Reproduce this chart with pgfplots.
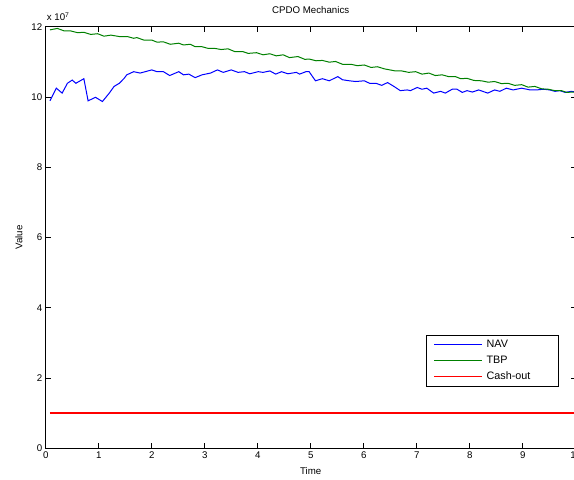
\documentclass[border=0pt]{standalone}
\usepackage{fontspec}
\setmainfont{Liberation Sans}
\usepackage{pgfplots}
\pgfplotsset{compat=1.18}
\usetikzlibrary{calc}

\definecolor{navblue}{rgb}{0,0,1}
\definecolor{tbpgreen}{rgb}{0,0.5,0}
\definecolor{cashred}{rgb}{1,0,0}

% values in units of 10^7
\pgfplotstableread{
t     v
0.08  9.89
0.20  10.25
0.31  10.11
0.41  10.39
0.50  10.48
0.57  10.39
0.72  10.52
0.80  9.89
0.94  9.99
1.07  9.87
1.20  10.11
1.29  10.30
1.39  10.39
1.48  10.53
1.53  10.63
1.66  10.72
1.78  10.68
1.88  10.72
2.00  10.77
2.10  10.72
2.22  10.72
2.34  10.61
2.51  10.72
2.60  10.63
2.70  10.65
2.82  10.55
2.95  10.63
3.11  10.68
3.24  10.77
3.35  10.70
3.50  10.77
3.63  10.70
3.75  10.72
3.85  10.66
4.01  10.72
4.10  10.70
4.23  10.74
4.34  10.65
4.45  10.72
4.57  10.66
4.73  10.70
4.79  10.65
4.91  10.72
4.97  10.72
5.09  10.46
5.22  10.52
5.35  10.46
5.51  10.58
5.60  10.49
5.73  10.46
5.85  10.44
6.01  10.46
6.11  10.39
6.23  10.39
6.34  10.33
6.45  10.41
6.57  10.30
6.69  10.18
6.82  10.20
6.88  10.18
7.01  10.27
7.10  10.22
7.19  10.25
7.32  10.11
7.45  10.16
7.54  10.11
7.67  10.22
7.76  10.22
7.86  10.13
7.95  10.18
8.05  10.14
8.17  10.20
8.34  10.11
8.47  10.20
8.57  10.16
8.69  10.25
8.82  10.20
8.98  10.25
9.14  10.20
9.26  10.20
9.39  10.22
9.51  10.20
9.61  10.16
9.70  10.18
9.80  10.13
9.92  10.16
10.00 10.14
}\navdata

\pgfplotstableread{
t     v
0.08  11.91
0.22  11.95
0.35  11.88
0.47  11.88
0.60  11.83
0.72  11.84
0.85  11.78
0.98  11.80
1.10  11.73
1.23  11.76
1.39  11.72
1.54  11.72
1.66  11.67
1.72  11.69
1.85  11.62
2.00  11.62
2.10  11.56
2.22  11.57
2.35  11.50
2.51  11.53
2.60  11.48
2.73  11.50
2.82  11.43
2.95  11.43
3.07  11.38
3.20  11.38
3.31  11.35
3.44  11.37
3.57  11.29
3.72  11.29
3.82  11.24
3.98  11.26
4.10  11.20
4.23  11.23
4.35  11.17
4.48  11.20
4.60  11.12
4.76  11.15
4.89  11.07
4.97  11.08
5.10  11.03
5.22  11.04
5.35  10.99
5.47  11.01
5.60  10.93
5.76  10.93
5.88  10.89
6.01  10.91
6.14  10.84
6.26  10.86
6.39  10.80
6.53  10.76
6.60  10.74
6.72  10.74
6.85  10.70
6.98  10.72
7.10  10.65
7.23  10.68
7.35  10.61
7.48  10.63
7.60  10.58
7.73  10.58
7.83  10.52
7.95  10.53
8.08  10.47
8.22  10.46
8.35  10.42
8.47  10.44
8.60  10.38
8.72  10.39
8.85  10.33
8.98  10.35
9.10  10.28
9.23  10.30
9.36  10.23
9.48  10.22
9.61  10.18
9.73  10.18
9.83  10.13
9.95  10.14
10.00 10.14
}\tbpdata

% constant cash-out threshold
\pgfplotstableread{
t     v
0.08  1.0
1.00  1.0
2.00  1.0
3.00  1.0
4.00  1.0
5.00  1.0
6.00  1.0
7.00  1.0
8.00  1.0
9.00  1.0
10.00 1.0
}\cashdata

\begin{document}
\begin{tikzpicture}
\begin{axis}[
  name=ax,
  at={(0,0)}, anchor=south west,
  scale only axis, width=530pt, height=421.6pt,
  xmin=0, xmax=10, ymin=0, ymax=12,
  xtick={0,1,...,10}, ytick={0,2,...,12},
  tick align=inside, major tick length=5pt,
  xtick pos=both, ytick pos=both,
  tick style={black, line width=0.6pt},
  axis line style={black, line width=0.7pt},
  font=\fontsize{9.7}{11.5}\selectfont,
  /pgf/number format/assume math mode=true,
  xlabel={Time}, ylabel={Value},
  xlabel style={yshift=-2pt},
  ylabel style={yshift=2pt},
  title={CPDO Mechanics},
  title style={at={(0.5,1)}, anchor=base, yshift=6.7pt},
  legend cell align=left,
  legend style={at={(0.968,0.146)}, anchor=south east,
    draw=black, line width=0.6pt, fill=white,
    font=\fontsize{10.8}{12.5}\selectfont,
    inner xsep=7pt, inner ysep=3pt, row sep=3pt, column sep=2pt},
  legend image code/.code={\draw[#1, line width=1.1pt] (0pt,0pt) -- (48pt,0pt);},
]
\addplot[draw=navblue, line width=1pt] table[x=t, y=v] {\navdata};
\addlegendentry{NAV}
\addplot[draw=tbpgreen, line width=1pt] table[x=t, y=v] {\tbpdata};
\addlegendentry{TBP}
\addplot[draw=cashred, line width=1.5pt] table[x=t, y=v] {\cashdata};
\addlegendentry{Cash-out\hspace*{19pt}}
\end{axis}
\node[anchor=base west, font=\fontsize{9.7}{11.5}\selectfont, inner sep=0pt]
  at ($(ax.north west)+(1pt,5.7pt)$) {x 10\textsuperscript{7}};
\pgfresetboundingbox
\path[use as bounding box] ($(ax.south west)+(-45.7pt,-30.7pt)$) rectangle ($(ax.north east)+(-1.7pt,26.7pt)$);
\end{tikzpicture}
\end{document}
